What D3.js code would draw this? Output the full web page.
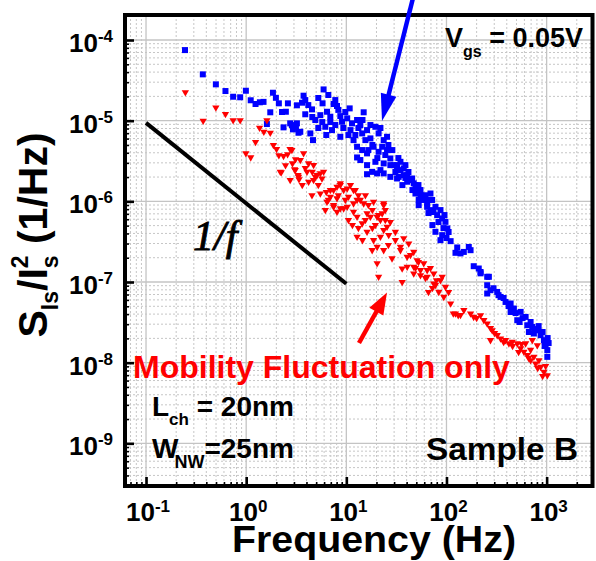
<!DOCTYPE html>
<html><head><meta charset="utf-8">
<script src="https://cdn.jsdelivr.net/npm/d3@7/dist/d3.min.js"></script>
<style>body{margin:0;background:#fff}svg{display:block}</style>
</head><body>
<svg id="c" width="596" height="561"></svg>
<script>
// ---- data ----
const blueFreq = [0.245,0.369,0.498,0.621,0.741,0.871,0.993,1.11,1.24,1.37,1.49,1.85,1.98,2.12,2.61,3.21,1.74,2.28,2.49,1.61,2.36,2.75,2.93,3.14,3.33,
3.74,3.89,3.61,5.93,5.79,7.46,8.07,10.8,14.9,4.54,3.89,6.41,5.50,4.90,6.92,8.71,9.06,10.2,11.4,12.8,13.8,3.21,2.86,3.47,4.37,4.65,6.17,7.19,8.71,10.5,11.8,14.4,16.1,17.4,19.5,21.0,23.6,25.5,
12.8,14.4,12.8,16.1,18.7,21.0,22.8,25.5,16.1,16.1,18.1,20.3,21.9,19.5,23.6,27.5,29.7,32.1,34.7,37.4,40.5,43.7,47.1,50.9,55.0,59.3,64.1,52.8,69.2,27.5,33.3,
23.6,32.1,34.7,37.4,32.1,40.5,45.4,49.0,55.0,52.8,59.3,64.1,71.9,77.6,69.2,80.7,90.6,97.7,102,77.6,90.6,87.1,110,128,123,138,149,167,174,187,210,219,255,
219,265,255,275,255,321,347,389,437,471,550,617,509,641,719,807,871,940,977,1016,746,665,1016,
4.17,5.25,6.61,7.76,4.57,5.75,8.32,9.77,9.33,11.0,13.2,15.5,18.2,20.4,24.5,27.5,30.9,13.8,16.6,6.92,5.25,6.31,7.76,12.3,14.5,17.4,21.9,26.3,28.8,33.1,38.9,41.7,36.3,45.7,52.5,61.7,66.1,83.2,93.3,72.4,100,
295,331,372,417,490,575,692,759,832,912,1023,955,1047,437,537,38.9,49.0,57.5,66.1,74.1,87.1,95.5,105];
const bluePSD = [7.5e-5,3.75e-5,2.82e-5,2.33e-5,1.98e-5,1.95e-5,2.35e-5,1.79e-5,1.61e-5,1.69e-5,1.71e-5,2.22e-5,1.92e-5,1.64e-5,1.64e-5,1.55e-5,1.27e-5,1.28e-5,1.29e-5,9.08e-6,8.26e-6,9.26e-6,7.8e-6,8.26e-6,7.08e-6,
2.04e-5,1.80e-5,1.67e-5,2.44e-5,1.64e-5,1.61e-5,1.52e-5,1.42e-5,1.27e-5,1.38e-5,1.20e-5,1.29e-5,1.17e-5,1.02e-5,1.12e-5,1.14e-5,9.69e-6,1.07e-5,9.26e-6,1.02e-5,8.82e-6,9.26e-6,8.82e-6,7.28e-6,6.95e-6,5.74e-6,8.40e-6,7.64e-6,6.31e-6,6.63e-6,5.74e-6,6.95e-6,7.64e-6,6.03e-6,8.40e-6,6.95e-6,5.74e-6,6.31e-6,
4.75e-6,4.32e-6,3.50e-6,3.93e-6,4.75e-6,4.11e-6,4.75e-6,4.32e-6,2.81e-6,2.17e-6,2.32e-6,2.22e-6,2.44e-6,3.09e-6,2.95e-6,3.40e-6,2.81e-6,2.44e-6,3.09e-6,2.56e-6,2.11e-6,1.83e-6,1.67e-6,1.38e-6,1.19e-6,1.04e-6,8.55e-7,8.97e-7,1.25e-6,2.01e-6,2.01e-6,
2.22e-6,2.81e-6,2.44e-6,2.11e-6,1.92e-6,1.75e-6,1.92e-6,1.25e-6,1.38e-6,1.04e-6,1.14e-6,9.41e-7,1.04e-6,8.55e-7,7.78e-7,6.74e-7,6.14e-7,5.57e-7,4.61e-7,4.19e-7,3.81e-7,3.30e-7,3.21e-7,2.68e-7,2.30e-7,2.26e-7,2.36e-7,2.72e-7,2.48e-7,1.57e-7,1.47e-7,1.28e-7,1.16e-7,
1.33e-7,1.16e-7,9.12e-8,7.91e-8,7.20e-8,7.53e-8,6.53e-8,5.66e-8,5.41e-8,4.69e-8,4.26e-8,3.69e-8,3.36e-8,2.91e-8,2.77e-8,2.52e-8,2.19e-8,1.90e-8,1.64e-8,1.43e-8,2.30e-8,2.40e-8,1.18e-8,
1.56e-5,1.91e-5,2.08e-5,1.80e-5,1.11e-5,9.61e-6,1.36e-5,1.28e-5,8.11e-6,7.64e-6,8.11e-6,5.74e-6,4.99e-6,3.44e-6,3.75e-6,2.81e-6,2.31e-6,3.25e-6,4.32e-6,9.61e-6,8.11e-6,6.64e-6,8.83e-6,6.64e-6,1.02e-5,8.83e-6,8.11e-6,4.99e-6,4.32e-6,3.44e-6,2.81e-6,2.31e-6,1.59e-6,1.38e-6,1.59e-6,1.19e-6,7.16e-7,5.54e-7,4.66e-7,5.08e-7,3.51e-7,
8.37e-8,6.87e-8,6.33e-8,5.03e-8,4.12e-8,3.57e-8,3.19e-8,2.61e-8,2.84e-8,2.40e-8,2.02e-8,1.61e-8,1.75e-8,4.25e-8,3.19e-8,1.95e-6,1.59e-6,1.10e-6,1.04e-6,7.38e-7,7.79e-7,6.76e-7,4.17e-7];

const redFreq = [0.247,0.498,0.621,0.372,0.741,0.871,1.61,1.36,1.50,1.74,1.24,1.87,2.01,2.74,0.993,1.11,2.12,2.36,2.59,3.11,2.47,2.90,3.04,2.24,3.29,3.37,
2.86,3.74,3.47,4.20,4.71,3.09,3.33,4.05,5.09,4.71,5.71,5.93,4.54,7.46,8.71,9.40,11.8,6.92,8.07,10.5,12.8,14.9,23.6,7.46,9.40,11.8,16.1,20.3,
2.19,4.20,4.90,5.50,5.50,6.92,8.07,8.71,10.2,12.3,15.5,6.41,7.46,6.17,8.07,10.2,11.8,13.8,18.7,10.5,12.8,14.4,17.4,19.5,21.9,25.5,12.8,16.1,18.7,21.9,20.3,18.1,23.6,20.3,21.0,
23.6,22.8,24.5,23.6,26.5,30.9,37.4,34.7,42.0,47.1,28.6,40.5,50.9,59.3,36.1,47.1,64.1,55.0,74.6,90.6,
40.5,47.1,55.0,64.1,74.6,87.1,97.7,83.8,94.0,110,36.1,117,123,131,149,174,187,219,236,255,286,275,321,347,389,420,454,509,550,593,641,692,776,871,940,1016,746,838,617,719,807,
3.89,5.25,6.31,8.32,9.77,11.0,13.2,16.6,18.2,20.9,24.5,27.5,15.5,18.2,13.2,14.5,26.3,30.9,34.7,43.7,52.5,69.2,79.4,105,72.4,8.71,6.61,11.5,4.57,3.63,2.75,
138,200,275,302,372,457,525,661,813,977,912,692,562,49.0,61.7,77.6,66.1];
const redPSD = [2.25e-5,1.45e-5,1.21e-5,9.97e-6,1.01e-5,1.01e-5,1.01e-5,8.17e-6,7.28e-6,7.08e-6,5.42e-6,4.98e-6,4.44e-6,4.44e-6,3.93e-6,3.50e-6,3.71e-6,3.64e-6,3.82e-6,3.31e-6,2.79e-6,2.95e-6,2.49e-6,2.29e-6,2.11e-6,1.87e-6,
4.32e-6,3.93e-6,3.24e-6,2.95e-6,2.81e-6,2.44e-6,2.01e-6,2.32e-6,2.11e-6,1.83e-6,1.92e-6,2.32e-6,1.19e-6,1.38e-6,1.59e-6,1.38e-6,1.38e-6,1.14e-6,1.09e-6,1.14e-6,1.04e-6,9.41e-7,8.97e-7,8.55e-7,8.16e-7,7.41e-7,7.08e-7,6.43e-7,
2.32e-6,1.75e-6,2.01e-6,2.22e-6,1.25e-6,1.38e-6,1.51e-6,1.67e-6,1.44e-6,1.38e-6,1.19e-6,9.86e-7,8.97e-7,7.78e-7,7.41e-7,8.55e-7,9.41e-7,1.04e-6,9.86e-7,5.85e-7,6.43e-7,5.32e-7,6.43e-7,5.07e-7,5.85e-7,4.83e-7,3.63e-7,4.19e-7,3.30e-7,3.63e-7,2.72e-7,2.48e-7,2.48e-7,1.70e-7,1.16e-7,
9.41e-7,7.08e-7,5.85e-7,4.40e-7,3.81e-7,3.30e-7,3.47e-7,2.72e-7,3.00e-7,2.36e-7,1.96e-7,2.05e-7,1.86e-7,1.70e-7,1.47e-7,1.54e-7,1.40e-7,1.21e-7,1.27e-7,1.16e-7,
1.54e-7,1.27e-7,1.40e-7,1.16e-7,9.57e-8,1.05e-7,8.69e-8,7.53e-8,6.53e-8,5.41e-8,1.00e-7,4.07e-8,4.07e-8,3.87e-8,4.47e-8,4.07e-8,3.69e-8,3.87e-8,3.36e-8,3.05e-8,2.52e-8,1.90e-8,2.19e-8,1.99e-8,1.90e-8,1.73e-8,1.81e-8,1.73e-8,1.50e-8,1.36e-8,1.24e-8,1.07e-8,9.75e-9,8.85e-9,7.67e-9,6.98e-9,1.18e-8,1.07e-8,1.73e-8,1.90e-8,1.64e-8,
2.58e-6,1.59e-6,1.30e-6,1.19e-6,1.04e-6,1.59e-6,1.19e-6,8.97e-7,7.79e-7,6.75e-7,7.79e-7,5.54e-7,5.85e-7,4.66e-7,4.66e-7,3.30e-7,2.87e-7,4.17e-7,2.48e-7,2.16e-7,1.77e-7,1.49e-7,1.05e-7,7.51e-8,8.41e-8,8.16e-7,1.04e-6,5.08e-7,2.32e-6,1.59e-6,1.83e-6,
3.90e-8,3.57e-8,2.69e-8,2.33e-8,1.80e-8,1.61e-8,1.35e-8,1.14e-8,8.59e-9,9.08e-9,6.83e-9,1.44e-8,1.70e-8,1.49e-7,1.12e-7,9.18e-8,7.51e-8];

const slopeFreq = [0.1, 10];
const slopePSD = [9.4e-6, 9.5e-8];
const xTickExps = [-1, 0, 1, 2, 3];
const yTickExps = [-9, -8, -7, -6, -5, -4];
const xDomain = [Math.pow(10,-1.21), Math.pow(10,3.458)];
const yDomain = [Math.pow(10,-9.529), Math.pow(10,-3.69)];

// ---- layout ----
const L = 125, R = 592.5, T = 15, B = 486;
const svg = d3.select("#c");
const x = d3.scaleLog().domain(xDomain).range([L, R]);
const y = d3.scaleLog().domain(yDomain).range([B, T]);

function minors(dom){
  const out=[]; const lo=Math.floor(Math.log10(dom[0])), hi=Math.ceil(Math.log10(dom[1]));
  for(let e=lo;e<=hi;e++) for(let k=2;k<=9;k++){const v=k*Math.pow(10,e); if(v>=dom[0]&&v<=dom[1]) out.push(v);}
  return out;
}
const xMaj = xTickExps.map(e=>Math.pow(10,e));
const yMaj = yTickExps.map(e=>Math.pow(10,e));
const xMin = minors(xDomain), yMin = minors(yDomain);

// grid
const grid = svg.append("g");
grid.selectAll(".vmin").data(xMin).join("line")
  .attr("x1",d=>x(d)).attr("x2",d=>x(d)).attr("y1",T).attr("y2",B)
  .attr("stroke","#c6c6c6").attr("stroke-width",1).attr("stroke-dasharray","2,2");
grid.selectAll(".hmin").data(yMin).join("line")
  .attr("y1",d=>y(d)).attr("y2",d=>y(d)).attr("x1",L).attr("x2",R)
  .attr("stroke","#c6c6c6").attr("stroke-width",1).attr("stroke-dasharray","2,2");
grid.selectAll(".vmaj").data(xMaj).join("line")
  .attr("x1",d=>x(d)).attr("x2",d=>x(d)).attr("y1",T).attr("y2",B)
  .attr("stroke","#c4c4c4").attr("stroke-width",1.3);
grid.selectAll(".hmaj").data(yMaj).join("line")
  .attr("y1",d=>y(d)).attr("y2",d=>y(d)).attr("x1",L).attr("x2",R)
  .attr("stroke","#c4c4c4").attr("stroke-width",1.3);

// ticks (inward)
function tickAxis(axis, vals, size, w, tr){
  const g = svg.append("g").attr("transform",tr)
    .call(axis.tickValues(vals).tickSize(-size).tickFormat(""));
  g.select(".domain").remove();
  g.selectAll(".tick line").attr("stroke","#000").attr("stroke-width",w);
}
tickAxis(d3.axisBottom(x), xMin, 4, 1.6, `translate(0,${B})`);
tickAxis(d3.axisBottom(x), xMaj, 9, 2.6, `translate(0,${B})`);
tickAxis(d3.axisLeft(y), yMin, 4, 1.6, `translate(${L},0)`);
tickAxis(d3.axisLeft(y), yMaj, 9, 2.6, `translate(${L},0)`);

// 1/f guide line
svg.append("line")
  .attr("x1",x(slopeFreq[0])).attr("y1",y(slopePSD[0]))
  .attr("x2",x(slopeFreq[1])).attr("y2",y(slopePSD[1]))
  .attr("stroke","#000").attr("stroke-width",4).attr("stroke-linecap","butt");

// data
const blue = blueFreq.map((f,i)=>[f,bluePSD[i]]);
const red = redFreq.map((f,i)=>[f,redPSD[i]]);
const sq = d3.symbol(d3.symbolSquare, 36)();
const tri = d3.symbol(d3.symbolTriangle, 23)();
svg.append("g").selectAll("path").data(blue).join("path")
  .attr("d",sq).attr("fill","#0000ff")
  .attr("transform",d=>`translate(${x(d[0])},${y(d[1])})`);
svg.append("g").selectAll("path").data(red).join("path")
  .attr("d",tri).attr("fill","#ff0000")
  .attr("transform",d=>`translate(${x(d[0])},${y(d[1])}) rotate(180)`);

// frame
svg.append("rect").attr("x",L).attr("y",T).attr("width",R-L).attr("height",B-T)
  .attr("fill","none").attr("stroke","#000").attr("stroke-width",4);

// tick labels
const font = "'Liberation Sans', Arial, sans-serif";
xTickExps.forEach(e=>{
  const t = svg.append("text").attr("x",x(Math.pow(10,e))+2).attr("y",520.5)
    .attr("text-anchor","middle").attr("font-family",font).attr("font-weight","bold").attr("font-size",26);
  t.append("tspan").text("10");
  t.append("tspan").attr("font-size",17).attr("dy",-9).text(String(e));
});
yTickExps.forEach(e=>{
  const t = svg.append("text").attr("x",113).attr("y",y(Math.pow(10,e))+12)
    .attr("text-anchor","end").attr("font-family",font).attr("font-weight","bold").attr("font-size",26);
  t.append("tspan").text("10");
  t.append("tspan").attr("font-size",17).attr("dy",-10).text(String(e));
});

// axis titles
svg.append("text").attr("x",374).attr("y",552).attr("text-anchor","middle")
  .attr("font-family",font).attr("font-weight","bold").attr("font-size",37)
  .attr("textLength",284).attr("lengthAdjust","spacingAndGlyphs").text("Frequency (Hz)");
const yt = svg.append("text").attr("transform","translate(47,235) rotate(-90)")
  .attr("text-anchor","middle").attr("font-family",font).attr("font-weight","bold").attr("font-size",41);
yt.append("tspan").text("S");
yt.append("tspan").attr("font-size",23).attr("dy",11).text("Is");
yt.append("tspan").attr("dy",-11).text("/I");
yt.append("tspan").attr("font-size",23).attr("dy",-19).text("2");
yt.append("tspan").attr("font-size",23).attr("dx",-12.8).attr("dy",30).text("s");
yt.append("tspan").attr("dy",-11).text(" (1/Hz)");

// annotations
const vg = svg.append("text").attr("x",445).attr("y",47).attr("font-family",font).attr("font-weight","bold").attr("font-size",27);
vg.append("tspan").text("V");
vg.append("tspan").attr("font-size",16).attr("dy",10).text("gs");
vg.append("tspan").attr("dy",-10).text(" = 0.05V");

svg.append("text").attr("x",133).attr("y",378).attr("font-family",font).attr("font-weight","bold")
  .attr("font-size",32).attr("fill","#ff0000").text("Mobility Fluctuation only");

const lc = svg.append("text").attr("x",152).attr("y",416).attr("font-family",font).attr("font-weight","bold").attr("font-size",28);
lc.append("tspan").text("L");
lc.append("tspan").attr("font-size",17).attr("dy",9).text("ch");
lc.append("tspan").attr("dy",-9).text(" = 20nm");

const wn = svg.append("text").attr("x",152).attr("y",458).attr("font-family",font).attr("font-weight","bold").attr("font-size",28);
wn.append("tspan").text("W");
wn.append("tspan").attr("font-size",18).attr("dx",-4).attr("dy",10).text("NW");
wn.append("tspan").attr("dy",-10).text("=25nm");

svg.append("text").attr("x",426).attr("y",460).attr("font-family",font).attr("font-weight","bold")
  .attr("font-size",32).attr("textLength",152).attr("lengthAdjust","spacingAndGlyphs").text("Sample B");

svg.append("text").attr("x",193).attr("y",250).attr("font-family","'Liberation Serif', 'Times New Roman', serif")
  .attr("font-style","italic").attr("font-size",42).attr("stroke","#000").attr("stroke-width",0.9).text("1/f");

// arrows
function arrow(x0,y0,x1,y1,color,w,hl,hw){
  const dx=x1-x0, dy=y1-y0, len=Math.hypot(dx,dy), ux=dx/len, uy=dy/len;
  const bx=x1-ux*hl, by=y1-uy*hl, px=-uy, py=ux;
  svg.append("line").attr("x1",x0).attr("y1",y0).attr("x2",bx+ux*2).attr("y2",by+uy*2)
    .attr("stroke",color).attr("stroke-width",w);
  svg.append("path").attr("d",`M${x1},${y1}L${bx+px*hw},${by+py*hw}L${bx-px*hw},${by-py*hw}Z`).attr("fill",color);
}
arrow(413,-2,382,121,"#0000ff",4.5,27,8);
arrow(359,343,387,292.5,"#ff0000",4.5,22,8);
</script>
</body></html>
